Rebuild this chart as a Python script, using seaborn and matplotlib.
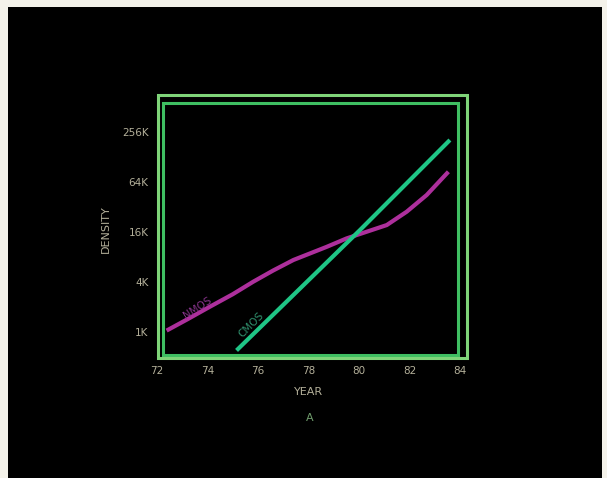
import numpy as np
import pandas as pd
import seaborn as sns
import matplotlib.pyplot as plt
from matplotlib.patches import Rectangle

# --- Data (density in K bits) ---
NMOS_YEAR = [72.38, 73.2, 74.1, 75.0, 75.81, 76.6, 77.4, 78.72, 79.51, 80.3, 81.1, 81.89, 82.68, 83.54]
NMOS_DENSITY = [1.04, 1.42, 2.02, 2.85, 4.03, 5.5, 7.36, 10.6, 13.4, 16.1, 19.4, 28.1, 44.6, 85.0]
CMOS_YEAR = [75.15, 80.04, 83.6]
CMOS_DENSITY = [0.60, 16.9, 205.0]
X_TICKS = [72, 74, 76, 78, 80, 82, 84]
Y_TICKS = [1, 4, 16, 64, 256]
Y_LABELS = ['1K', '4K', '16K', '64K', '256K']

TEXT = '#b4b09a'
FRAME = '#3fbf62'
FRAME_HI = '#7fd479'

df = pd.concat([
    pd.DataFrame({'year': NMOS_YEAR, 'density': NMOS_DENSITY, 'tech': 'NMOS'}),
    pd.DataFrame({'year': CMOS_YEAR, 'density': CMOS_DENSITY, 'tech': 'CMOS'}),
])

sns.set_style('dark')
W, H = 607, 478
fig = plt.figure(figsize=(W / 100, H / 100), dpi=100, facecolor='#f4f2ea')

# black slide area
fig.patches.append(Rectangle((8 / W, 0), 594 / W, 471 / H, transform=fig.transFigure,
                             facecolor='black', edgecolor='none', zorder=-10))

# axes spans 72..84 in x (157..460 px), 103..355 px in y
ax = fig.add_axes([157 / W, (H - 355) / H, 303 / W, 252 / H])
ax.set_facecolor('none')

sns.lineplot(data=df, x='year', y='density', hue='tech', ax=ax, legend=False,
             palette={'NMOS': '#ad2f9c', 'CMOS': '#1fc586'}, linewidth=3.0,
             sort=False, estimator=None, solid_capstyle='butt', solid_joinstyle='round')

ax.set_yscale('log', base=2)
ax.set_xticks(X_TICKS)
ax.set_xticklabels([str(t) for t in X_TICKS])
ax.set_yticks(Y_TICKS)
ax.set_yticklabels(Y_LABELS)
ax.minorticks_off()
ax.set_xlim(72, 84)
ax.set_ylim(2 ** -0.92, 2 ** 9.16)
ax.tick_params(colors=TEXT, labelsize=7.5, length=0, pad=8)
ax.tick_params(axis='y', pad=6)
ax.grid(False)
ax.set_xlabel('YEAR', color=TEXT, fontsize=8, labelpad=8)
ax.set_ylabel('DENSITY', color=TEXT, fontsize=8, labelpad=8)
for s in ax.spines.values():
    s.set_visible(False)

# "3D" frame: inner box and outer box
fig.patches.append(Rectangle((163 / W, (H - 355) / H), 295 / W, 252 / H,
                             transform=fig.transFigure, facecolor='none',
                             edgecolor=FRAME, linewidth=2.2, zorder=5))
fig.patches.append(Rectangle((158 / W, (H - 358) / H), 309 / W, 263 / H,
                             transform=fig.transFigure, facecolor='none',
                             edgecolor=FRAME_HI, linewidth=2.2, zorder=5))

# curve labels
ax.text(73.6, 2 ** 0.95, 'NMOS', color='#86338a', fontsize=7.5, rotation=33,
        ha='center', va='center')
ax.text(75.75, 2 ** 0.3, 'CMOS', color='#2f8f6c', fontsize=7.5, rotation=45,
        ha='center', va='center')

fig.text(310 / W, 1 - 418 / H, 'A', color='#6f9c6c', fontsize=8, ha='center', va='center')

fig.savefig('out.png', dpi=100, facecolor=fig.get_facecolor())
